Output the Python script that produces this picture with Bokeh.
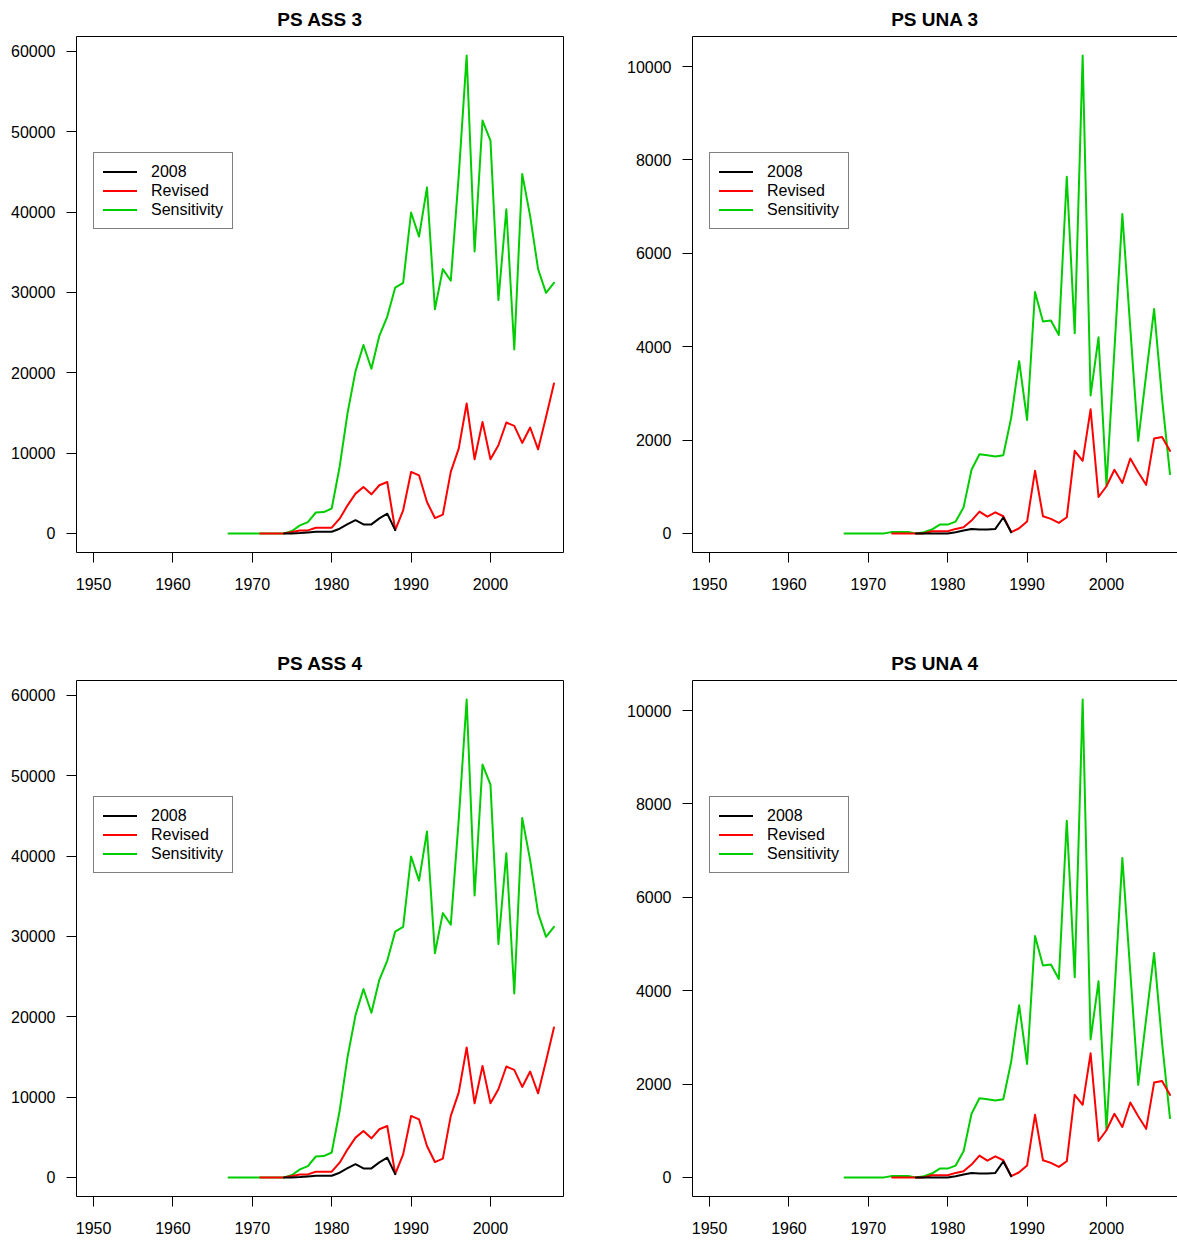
import numpy as np
from bokeh.plotting import figure
from bokeh.models import (FixedTicker, LinearAxis, Legend, LegendItem, Range1d,
                          BasicTickFormatter)
from bokeh.layouts import gridplot
from bokeh.embed import file_html
from bokeh.resources import INLINE

FONT = "Liberation Sans"

# Catch series by year (None = no value for that year)
years = list(range(1967, 2009))
N = None

# PS ASS
ass_2008 = [N] * 7 + [0, 0, 40, 120, 210, 210, 210, 580, 1150, 1650, 1120, 1120,
                      1870, 2450, 400] + [N] * 20
ass_revised = [N] * 4 + [0, 0, 0, 0,
                         170, 370, 370, 710, 710, 710,
                         1830, 3490, 4950, 5780, 4860, 5990, 6400, 420,
                         2870, 7650, 7230, 3910, 1910, 2330, 7650, 10560, 16170, 9230,
                         13880, 9230, 10970, 13800, 13380, 11260, 13180, 10470, 14500, 18660]
ass_sensitivity = [0, 0, 0, 0, 0, 0, 0, 0,
                   300, 1000, 1400, 2600, 2650, 3100, 8300, 15000, 20200, 23450,
                   20500, 24600, 27000, 30600, 31200, 39950, 36950, 43050, 27900, 32900,
                   31450, 44500, 59480, 35100, 51400, 48900, 29050, 40350, 22900, 44750,
                   39500, 32900, 29950, 31200]

# PS UNA
una_2008 = [N] * 9 + [0, 0, 0, 0, 0, 25, 60, 96, 82, 82, 96, 340, 25] + [N] * 20
una_revised = [N] * 6 + [0, 0, 0, 0, 0,
                         46, 46, 46, 96, 131, 274, 466, 359, 452, 367,
                         25, 110, 253, 1341, 367, 310, 224, 345, 1768, 1555,
                         2657, 780, 1010, 1362, 1080, 1604, 1310, 1040, 2031, 2067, 1768]
una_sensitivity = [0, 0, 0, 0, 0, 0,
                   30, 30, 30, 0, 25, 82, 189, 189, 253, 558,
                   1363, 1697, 1675, 1647, 1675, 2480, 3690, 2430, 5170, 4540,
                   4560, 4250, 7640, 4290, 10235, 2956, 4200, 1020, 3930, 6840,
                   4400, 1982, 3400, 4806, 2890, 1270]

x_ticks = [1950, 1960, 1970, 1980, 1990, 2000]
ass_ticks = [0, 10000, 20000, 30000, 40000, 50000, 60000]
una_ticks = [0, 2000, 4000, 6000, 8000, 10000]

series_names = ["2008", "Revised", "Sensitivity"]
series_colors = ["#000000", "#FF0000", "#00CD00"]

X0 = 1947.85
PX_PER_YEAR = 7.938


def style_axis(ax, ticks, labels=True):
    ax.ticker = FixedTicker(ticks=ticks)
    ax.axis_line_color = "black"
    ax.axis_line_width = 1
    ax.major_tick_line_color = "black"
    ax.major_tick_out = 10 if labels else 0
    ax.major_tick_in = 0
    ax.minor_tick_out = 0
    ax.minor_tick_in = 0
    ax.major_label_text_font = FONT
    ax.major_label_text_font_size = "16px" if labels else "0px"
    ax.major_label_text_color = "black"
    ax.major_label_standoff = 11 if labels else 0
    return ax


def make_panel(title, s2008, srev, ssens, yticks, width, height,
               border_right, border_bottom, right_edge):
    vals = np.array([v for s in (s2008, srev, ssens) for v in s if v is not None],
                    dtype=float)
    lo, hi = vals.min(), vals.max()
    ext = 0.04 * (hi - lo)
    frame_w = width - 76 - border_right
    x1 = X0 + frame_w / PX_PER_YEAR

    p = figure(width=width, height=height, output_backend="svg",
               toolbar_location=None,
               x_range=Range1d(X0, x1), y_range=Range1d(lo - ext, hi + ext),
               x_axis_location=None, y_axis_location=None,
               min_border_left=76, min_border_right=border_right,
               min_border_top=36, min_border_bottom=border_bottom)
    p.outline_line_color = None
    p.xgrid.visible = False
    p.ygrid.visible = False
    p.background_fill_color = "white"
    p.border_fill_color = "white"

    xa = style_axis(LinearAxis(), x_ticks)
    xa.major_label_standoff = 15
    p.add_layout(xa, "below")
    ya = style_axis(LinearAxis(formatter=BasicTickFormatter(use_scientific=False)), yticks)
    p.add_layout(ya, "left")
    p.add_layout(style_axis(LinearAxis(), [], labels=False), "above")
    if right_edge:
        p.add_layout(style_axis(LinearAxis(), [], labels=False), "right")

    p.title.text = title
    p.title.align = "center"
    p.title.text_font = FONT
    p.title.text_font_style = "bold"
    p.title.text_font_size = "19px"
    p.title.text_color = "black"
    p.title.standoff = 13

    data = [s2008, srev, ssens]
    renderers = {}
    # sensitivity first, then revised, then 2008 on top
    for i in (2, 1, 0):
        y = np.array(data[i], dtype=float)
        renderers[i] = p.line(years, y, line_color=series_colors[i], line_width=2,
                              line_join="round", line_cap="round")

    legend = Legend(items=[LegendItem(label=series_names[i], renderers=[renderers[i]])
                           for i in range(3)],
                    location=(17, 323))
    legend.label_text_font = FONT
    legend.label_text_font_size = "16px"
    legend.label_text_color = "black"
    legend.glyph_width = 34
    legend.glyph_height = 19
    legend.label_height = 19
    legend.label_standoff = 14
    legend.spacing = 0
    legend.padding = 9
    legend.margin = 0
    legend.border_line_color = "black"
    legend.border_line_width = 1
    legend.background_fill_color = "white"
    legend.background_fill_alpha = 1.0
    p.add_layout(legend)
    return p


p1 = make_panel("PS ASS 3", ass_2008, ass_revised, ass_sensitivity, ass_ticks,
                616, 644, 53, 92, True)
p2 = make_panel("PS UNA 3", una_2008, una_revised, una_sensitivity, una_ticks,
                561, 644, 0, 92, False)
p3 = make_panel("PS ASS 4", ass_2008, ass_revised, ass_sensitivity, ass_ticks,
                616, 597, 53, 45, True)
p4 = make_panel("PS UNA 4", una_2008, una_revised, una_sensitivity, una_ticks,
                561, 597, 0, 45, False)

grid = gridplot([[p1, p2], [p3, p4]], toolbar_location=None)

with open("out.html", "w") as f:
    f.write(file_html(grid, INLINE))
